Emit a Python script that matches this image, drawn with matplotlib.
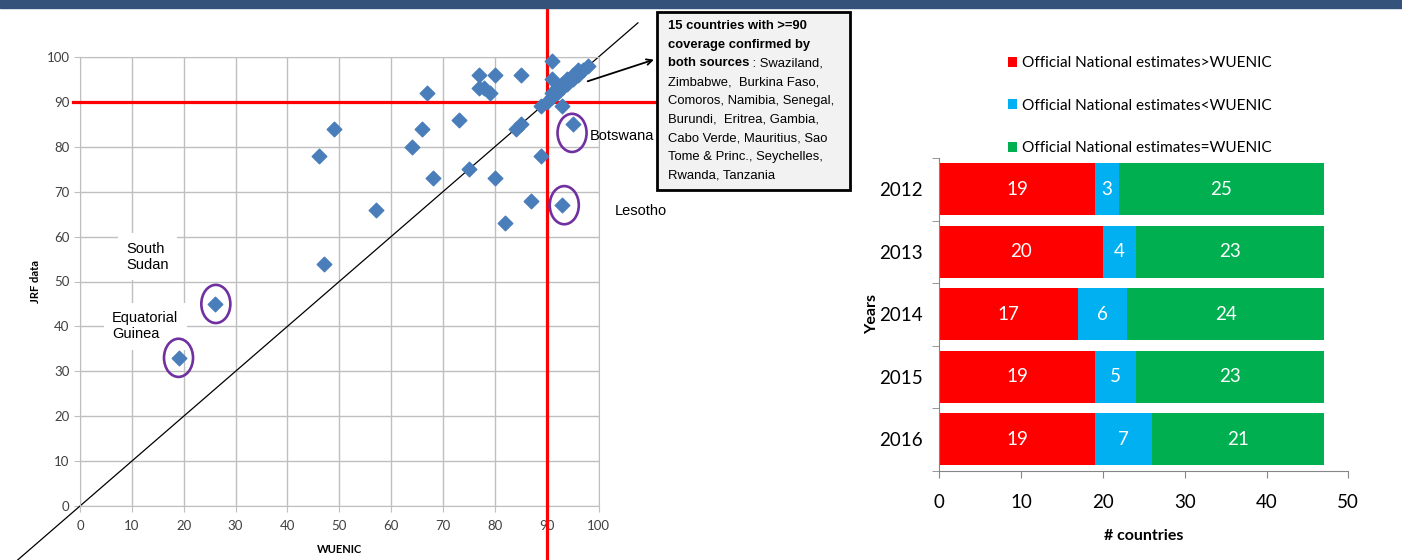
import matplotlib.pyplot as plt
from matplotlib.patches import Ellipse, Rectangle
import numpy as np

# === Scatter data (WUENIC vs JRF) ===
wuenic = [91, 77, 80, 85, 91, 67, 77, 78, 79,
          90, 91, 91, 92, 92, 93, 93, 94, 94, 95, 95, 96, 96, 97, 98,
          89, 93, 95, 49, 66, 73, 84, 85, 46, 64, 89, 75, 68, 80,
          57, 87, 93, 82, 47, 26, 19]
jrf = [99, 96, 96, 96, 95, 92, 93, 93, 92,
       90, 91, 92, 92, 93, 93, 94, 94, 95, 95, 96, 96, 97, 97, 98,
       89, 89, 85, 84, 84, 86, 84, 85, 78, 80, 78, 75, 73, 73,
       66, 68, 67, 63, 54, 45, 33]

# highlighted countries
hl_names = ["South\nSudan", "Equatorial\nGuinea", "Botswana", "Lesotho"]
hl_x = [26, 19, 95, 93]
hl_y = [45, 33, 85, 67]

box_bold = ["15 countries with >=90", "coverage confirmed by", "both sources"]
box_rest = [" : Swaziland,", "Zimbabwe,  Burkina Faso,", "Comoros, Namibia, Senegal,",
            "Burundi,  Eritrea, Gambia,", "Cabo Verde, Mauritius, Sao",
            "Tome & Princ., Seychelles,", "Rwanda, Tanzania"]

# === Bar data ===
years = ["2012", "2013", "2014", "2015", "2016"]
greater = [19, 20, 17, 19, 19]
less = [3, 4, 6, 5, 7]
equal = [25, 23, 24, 23, 21]
series_names = ["Official National estimates>WUENIC",
                "Official National estimates<WUENIC",
                "Official National estimates=WUENIC"]
colors = ["#ff0000", "#00b0f0", "#00b050"]

W, H = 1402, 560
fig = plt.figure(figsize=(W / 100, H / 100), dpi=100)

# header band
fig.patches.append(Rectangle((0, 1 - 8 / H), 1, 8 / H, transform=fig.transFigure,
                             color="#34527a", zorder=0))

gray = "#bfbfbf"
calibri = "Lato"
arial = "Liberation Sans"

# === Scatter ===
ax = fig.add_axes([80 / W, 1 - 506 / H, 518.5 / W, 449 / H])
ax.set_xlim(0, 100)
ax.set_ylim(0, 100)
ax.set_xticks(range(0, 101, 10))
ax.set_yticks(range(0, 101, 10))
ax.grid(True, color=gray, lw=1)
ax.set_axisbelow(True)
for s in ax.spines.values():
    s.set_color(gray)
ax.tick_params(colors=gray, length=4, labelcolor="#404040", labelsize=9.5)
ax.tick_params(axis="x", pad=6)
for lab in ax.get_xticklabels() + ax.get_yticklabels():
    lab.set_fontfamily(calibri)
ax.set_xlabel("WUENIC", fontsize=8, fontweight="bold", family=calibri, labelpad=9)
ax.set_ylabel("JRF data", fontsize=8, fontweight="bold", family=calibri, labelpad=4)

# reference lines
ax.plot([-12.5, 107.6], [-12.5, 107.6], color="black", lw=0.9, clip_on=False, zorder=2)
ax.plot([-1.4, 111], [90, 90], color="#ff0000", lw=2.3, clip_on=False, zorder=3)
ax.plot([90, 90], [-12.1, 111], color="#ff0000", lw=2.3, clip_on=False, zorder=3)

ax.scatter(wuenic, jrf, marker="D", s=55, color="#4a7ebb", zorder=4, clip_on=False)

# highlight circles and labels
ell_off = [(0.2, 0), (0, 0), (-0.1, -1.9), (0.4, 0)]
for (x, y), (dx, dy) in zip(zip(hl_x, hl_y), ell_off):
    ax.add_patch(Ellipse((x + dx, y + dy), 5.6, 8.5, fill=False, ec="#7030a0",
                         lw=1.9, zorder=5, clip_on=False))
ax.text(8.9, 55.5, hl_names[0], fontsize=10.5, family=arial, va="center", ha="left",
        bbox=dict(fc="white", ec="none", pad=6), zorder=3)
ax.text(6.2, 40.0, hl_names[1], fontsize=10.5, family=arial, va="center", ha="left",
        bbox=dict(fc="white", ec="none", pad=6), zorder=3)
ax.text(98.4, 82.3, hl_names[2], fontsize=10.5, family=arial, va="center", ha="left",
        clip_on=False)
ax.text(103.2, 65.8, hl_names[3], fontsize=10.5, family=arial, va="center", ha="left",
        clip_on=False)

# arrow to text box
ax.annotate("", xy=(111.2, 99.6), xytext=(97.4, 94.4),
            arrowprops=dict(arrowstyle="->", color="black", lw=1.3),
            annotation_clip=False)

# text box
fig.patches.append(Rectangle((657 / W, 1 - 190 / H), 193 / W, 178 / H,
                             transform=fig.transFigure, fc="#f2f2f2", ec="black",
                             lw=2, zorder=5))
narrow = ["Liberation Sans Narrow", "Liberation Sans"]
fs_box = 9.4
y0 = 26
step = 18.75
lines_t = []
for i, t in enumerate(box_bold):
    lines_t.append(fig.text(668 / W, 1 - (y0 + i * step) / H, t, fontsize=fs_box,
                            fontweight="bold", family=narrow, va="center",
                            ha="left", zorder=6))
bb = lines_t[2].get_window_extent(renderer=fig.canvas.get_renderer())
fig.text(bb.x1 / W, 1 - (y0 + 2 * step) / H, box_rest[0], fontsize=fs_box, family=narrow,
         va="center", ha="left", zorder=6)
for i, t in enumerate(box_rest[1:]):
    fig.text(668 / W, 1 - (y0 + (i + 3) * step) / H, t, fontsize=fs_box, family=narrow,
             va="center", ha="left", zorder=6)

# === Stacked bars ===
ax2 = fig.add_axes([939.3 / W, 1 - 470.7 / H, 409 / W, 312.7 / H])
yy = np.arange(len(years))
left = np.zeros(len(years))
handles = []
for vals, c, name in zip([greater, less, equal], colors, series_names):
    b = ax2.barh(yy, vals, left=left, height=0.83, color=c, label=name)
    handles.append(b)
    for yi, (l, v) in enumerate(zip(left, vals)):
        ax2.text(l + v / 2, yi, str(v), ha="center", va="center", color="white",
                 fontsize=13.5, family=calibri)
    left = left + np.array(vals)

ax2.set_xlim(0, 50)
ax2.set_ylim(4.5, -0.5)
ax2.set_xticks(range(0, 51, 10))
ax2.set_yticks(yy)
ax2.set_yticklabels(years)
ax2.set_yticks(np.arange(-0.5, 5, 1), minor=True)
ax2.tick_params(axis="y", which="major", length=0, pad=12)
ax2.tick_params(axis="y", which="minor", length=5, color="#868686")
ax2.tick_params(axis="x", length=5, color="#868686", pad=12)
ax2.tick_params(labelsize=13.5)
for lab in ax2.get_xticklabels() + ax2.get_yticklabels():
    lab.set_fontfamily(calibri)
for s in ["top", "right"]:
    ax2.spines[s].set_visible(False)
for s in ["left", "bottom"]:
    ax2.spines[s].set_color("#868686")
ax2.set_xlabel("# countries", fontsize=11.5, fontweight="bold", family=calibri, labelpad=13)
ax2.set_ylabel("Years", fontsize=11.5, fontweight="bold", family=calibri, labelpad=0)

ax2.legend(handles=handles, loc="upper left", bbox_to_anchor=(1002 / W, 1 - 50 / H),
           bbox_transform=fig.transFigure, frameon=False, prop=dict(family=calibri, size=11.1),
           handlelength=0.6, handleheight=0.6, handletextpad=0.3, labelspacing=1.85,
           borderaxespad=0)

fig.savefig("out.png", dpi=100)
